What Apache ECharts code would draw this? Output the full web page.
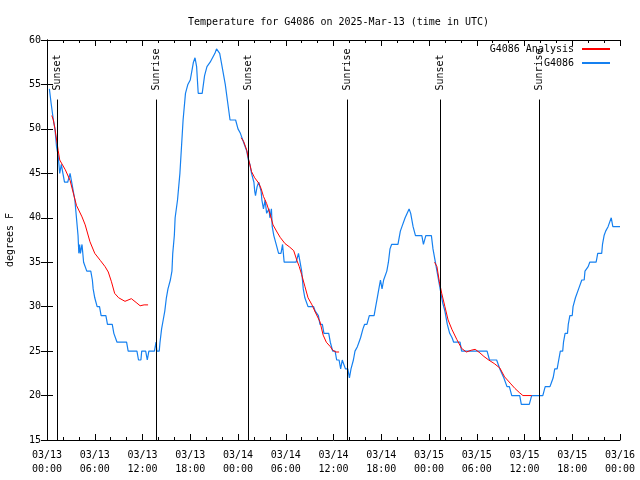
<!DOCTYPE html>
<html><head><meta charset="utf-8">
<script src="https://cdn.jsdelivr.net/npm/echarts@6/dist/echarts.min.js"></script>
<style>html,body{margin:0;padding:0;background:#fff}#c{width:640px;height:480px}</style>
</head><body><div id="c"></div>
<script>
var titleText = 'Temperature for G4086 on 2025-Mar-13 (time in UTC)';
var xTickLabels = ['03/13\n00:00','03/13\n06:00','03/13\n12:00','03/13\n18:00','03/14\n00:00','03/14\n06:00','03/14\n12:00','03/14\n18:00','03/15\n00:00','03/15\n06:00','03/15\n12:00','03/15\n18:00','03/16\n00:00'];
var yTicks = [15,20,25,30,35,40,45,50,55,60];
// hours since 03/13 00:00 UTC, temperature F
var observed = [[0.3,54.5],[0.5,53],[0.8,51],[1.0,50],[1.2,48],[1.4,47],[1.6,45],[1.8,46],[2.0,45],[2.2,44],[2.6,44],[2.9,45],[3.1,44],[3.3,44],[3.5,42],[3.7,40],[3.9,38],[4.0,36],[4.1,37],[4.2,36],[4.4,37],[4.6,35],[4.8,35],[5.0,34],[5.5,34],[5.7,33],[5.8,32],[6.0,31],[6.3,30],[6.6,30],[6.8,29],[7.4,29],[7.6,28],[8.2,28],[8.4,27],[8.8,26],[10.0,26],[10.2,25],[11.3,25],[11.5,24],[11.8,24],[11.9,25],[12.4,25],[12.6,24],[12.8,25],[13.5,25],[13.7,26],[13.8,25],[14.1,25],[14.2,26],[14.4,27.5],[14.6,28.5],[14.8,29.5],[15.0,31],[15.2,32],[15.5,33],[15.7,34],[15.8,36],[16.0,38],[16.1,40],[16.4,42],[16.7,45],[16.9,48],[17.1,51],[17.4,54],[17.7,55],[18.0,55.5],[18.2,56.5],[18.4,57.5],[18.6,58],[18.8,57],[19.0,54],[19.5,54],[19.8,56],[20.1,57],[20.5,57.5],[20.8,58],[21.1,58.5],[21.3,59],[21.5,59],[21.7,58.5],[21.9,57.5],[22.4,55],[22.7,53],[23.0,51],[23.7,51],[24.0,50],[24.3,49.5],[24.7,48.5],[25.1,47.5],[25.3,46.5],[25.5,46],[25.7,45],[26.0,44],[26.1,43],[26.2,42.5],[26.4,43.5],[26.6,44],[26.9,43],[27.0,42],[27.2,41],[27.4,42],[27.6,40.5],[27.9,41],[28.0,40],[28.2,41],[28.3,39],[28.5,38],[28.8,37],[29.1,36],[29.4,36],[29.6,37],[29.7,36],[29.8,35],[31.3,35],[31.6,36],[31.8,35],[32.0,34],[32.2,32],[32.4,31],[32.8,30],[33.5,30],[33.7,29.5],[34.1,29],[34.3,28],[34.6,28],[34.8,27],[35.4,27],[35.6,26],[35.9,25],[36.2,25],[36.4,24],[36.7,24],[36.9,23],[37.1,24],[37.3,24],[37.5,23],[37.8,23],[38.0,22],[38.2,23],[38.5,24],[38.7,25],[39.0,25.5],[39.2,26],[39.4,26.5],[39.7,27.5],[39.9,28],[40.2,28],[40.5,29],[41.1,29],[41.3,30],[41.5,31],[41.7,32],[41.9,33],[42.1,32],[42.3,33],[42.7,34],[42.9,35],[43.1,36.5],[43.3,37],[44.1,37],[44.4,38.5],[44.6,39],[45.0,40],[45.2,40],[45.5,41],[45.7,40.5],[46.0,39],[46.3,38],[47.1,38],[47.3,37],[47.6,38],[48.3,38],[48.5,36.5],[48.8,35],[49.0,34],[49.3,32.5],[49.5,31.5],[49.7,30.5],[50.0,29.5],[50.3,28],[50.6,27],[50.9,26.5],[51.1,26],[51.9,26],[52.1,25],[55.3,25],[55.6,24],[56.5,24],[56.7,23.5],[56.9,23],[57.4,22],[57.8,21],[58.1,21],[58.4,20],[59.4,20],[59.6,19],[60.6,19],[60.9,20],[62.3,20],[62.6,21],[63.2,21],[63.4,21.5],[63.6,22],[63.8,23],[64.1,23],[64.3,24],[64.5,25],[64.8,25],[64.9,26],[65.1,27],[65.4,27],[65.5,28],[65.7,29],[66.0,29],[66.1,30],[66.4,31],[66.6,31],[66.8,32],[67.0,32],[67.2,33],[67.5,33],[67.6,34],[68.0,34.5],[68.2,35],[69.0,35],[69.1,35.5],[69.2,36],[69.7,36],[69.8,37],[70.0,38],[70.2,38.5],[70.5,39],[70.7,39],[70.9,40],[71.1,39],[72.0,39]];
var analysis1 = [[0.6,51.5],[0.8,51],[1.0,50],[1.4,47.6],[1.6,46.5],[2.3,45.4],[2.9,44.2],[3.3,42.8],[3.7,41.4],[4.4,40.1],[4.8,39.2],[5.4,37.3],[6.0,36],[6.7,35.2],[7.3,34.5],[7.7,33.9],[8.1,32.8],[8.5,31.5],[9.0,31],[9.8,30.6],[10.6,30.9],[11.3,30.4],[11.7,30.1],[12.2,30.2],[12.7,30.2]];
var analysis2 = [[24.4,49],[24.7,48.6],[25.1,47.6],[25.3,46.7],[25.7,45.2],[26.1,44.5],[26.6,43.9],[26.9,43.3],[27.2,42.4],[27.6,41.6],[28.0,40.5],[28.4,39.2],[28.9,38.4],[29.3,37.8],[29.9,37.1],[30.5,36.7],[31.0,36.3],[31.4,35.2],[31.7,34.5],[32.0,33.6],[32.4,32.3],[32.8,31],[33.3,30.2],[33.7,29.4],[34.3,28.3],[34.7,26.8],[35.1,26],[35.6,25.5],[35.9,25.1],[36.3,24.9],[36.7,24.9]];
var analysis3 = [[48.7,35],[49.0,34.5],[49.3,32.8],[49.6,31.5],[50.0,30],[50.4,28.5],[50.9,27.4],[51.5,26.3],[52.1,25.3],[52.7,24.9],[53.3,25.1],[53.8,25.2],[54.4,24.8],[54.9,24.4],[55.5,24],[56.2,23.6],[56.9,23.1],[57.5,22.1],[58.2,21.4],[58.8,20.8],[59.4,20.3],[59.8,20],[60.9,20]];
var sunHours = [1.3,13.74,25.3,37.74,49.47,61.87];
var sunNames = ['Sunset','Sunrise','Sunset','Sunrise','Sunset','Sunrise'];
var sunLineTop = 53.3, sunLabelBase = 54.2;

var analysis = analysis1.concat([[null,null]], analysis2, [[null,null]], analysis3);
var FONT = 'DejaVu Sans Mono';
var chart = echarts.init(document.getElementById('c'), null, {renderer:'canvas'});
var axisCommon = {
  axisLine:{show:true,lineStyle:{color:'#000',width:1}},
  axisTick:{show:true,inside:true,length:6,lineStyle:{color:'#000'}},
  splitLine:{show:false}
};
var xBase = Object.assign({type:'value',min:0,max:72,interval:6,
  minorTick:{show:true,splitNumber:3,length:3,lineStyle:{color:'#000'}}}, axisCommon);
var yBase = Object.assign({type:'value',min:15,max:60,interval:5}, axisCommon);
var sunLines = sunHours.map(function(h){return [{coord:[h,15]},{coord:[h,sunLineTop]}];});
var sunLabels = sunHours.map(function(h,i){return {coord:[h,sunLabelBase],name:sunNames[i]};});
chart.setOption({
  animation:false,
  backgroundColor:'#fff',
  title:{text:titleText,left:183,top:12,textStyle:{fontFamily:FONT,fontSize:10,fontWeight:'normal',color:'#000'}},
  grid:{left:47,right:20,top:40,bottom:40,containLabel:false,outerBoundsMode:'none'},
  legend:[
    {data:['G4086 Analysis'],right:25,top:39,align:'right',itemWidth:28,itemHeight:2,icon:'rect',itemGap:4,textStyle:{fontFamily:FONT,fontSize:10,color:'#000',padding:[0,3,0,0]}},
    {data:['G4086'],right:25,top:53,align:'right',itemWidth:28,itemHeight:2,icon:'rect',itemGap:4,textStyle:{fontFamily:FONT,fontSize:10,color:'#000',padding:[0,3,0,0]}}
  ],
  xAxis:[
    Object.assign({}, xBase, {position:'bottom',axisLabel:{fontFamily:FONT,fontSize:10,color:'#000',margin:8,lineHeight:14,
      formatter:function(v){return xTickLabels[Math.round(v/6)];}}}),
    Object.assign({}, xBase, {position:'top',axisLabel:{show:false}})
  ],
  yAxis:[
    Object.assign({}, yBase, {position:'left',name:'degrees F',nameLocation:'middle',nameGap:32,nameRotate:90,
      nameTextStyle:{fontFamily:FONT,fontSize:10,color:'#000'},
      axisLabel:{fontFamily:FONT,fontSize:10,color:'#000',margin:6,formatter:function(v){return yTicks.indexOf(v)>=0?String(v):'';}}}),
    Object.assign({}, yBase, {position:'right',axisLabel:{show:false}})
  ],
  series:[
    {name:'G4086 Analysis',type:'line',data:analysis,showSymbol:false,connectNulls:false,color:'#ff0000',
     lineStyle:{color:'#ff0000',width:1},z:3},
    {name:'G4086',type:'line',data:observed,showSymbol:false,color:'#1580f0',
     lineStyle:{color:'#1580f0',width:1.2},z:2,
     markLine:{silent:true,symbol:['none','none'],label:{show:false},lineStyle:{color:'#000',width:1,type:'solid'},data:sunLines},
     markPoint:{silent:true,symbol:'circle',symbolSize:0,data:sunLabels,
       label:{show:true,position:'inside',formatter:'{b}',rotate:90,align:'left',verticalAlign:'middle',offset:[1,0],fontFamily:FONT,fontSize:10,color:'#000'}}}
  ]
});
</script></body></html>
